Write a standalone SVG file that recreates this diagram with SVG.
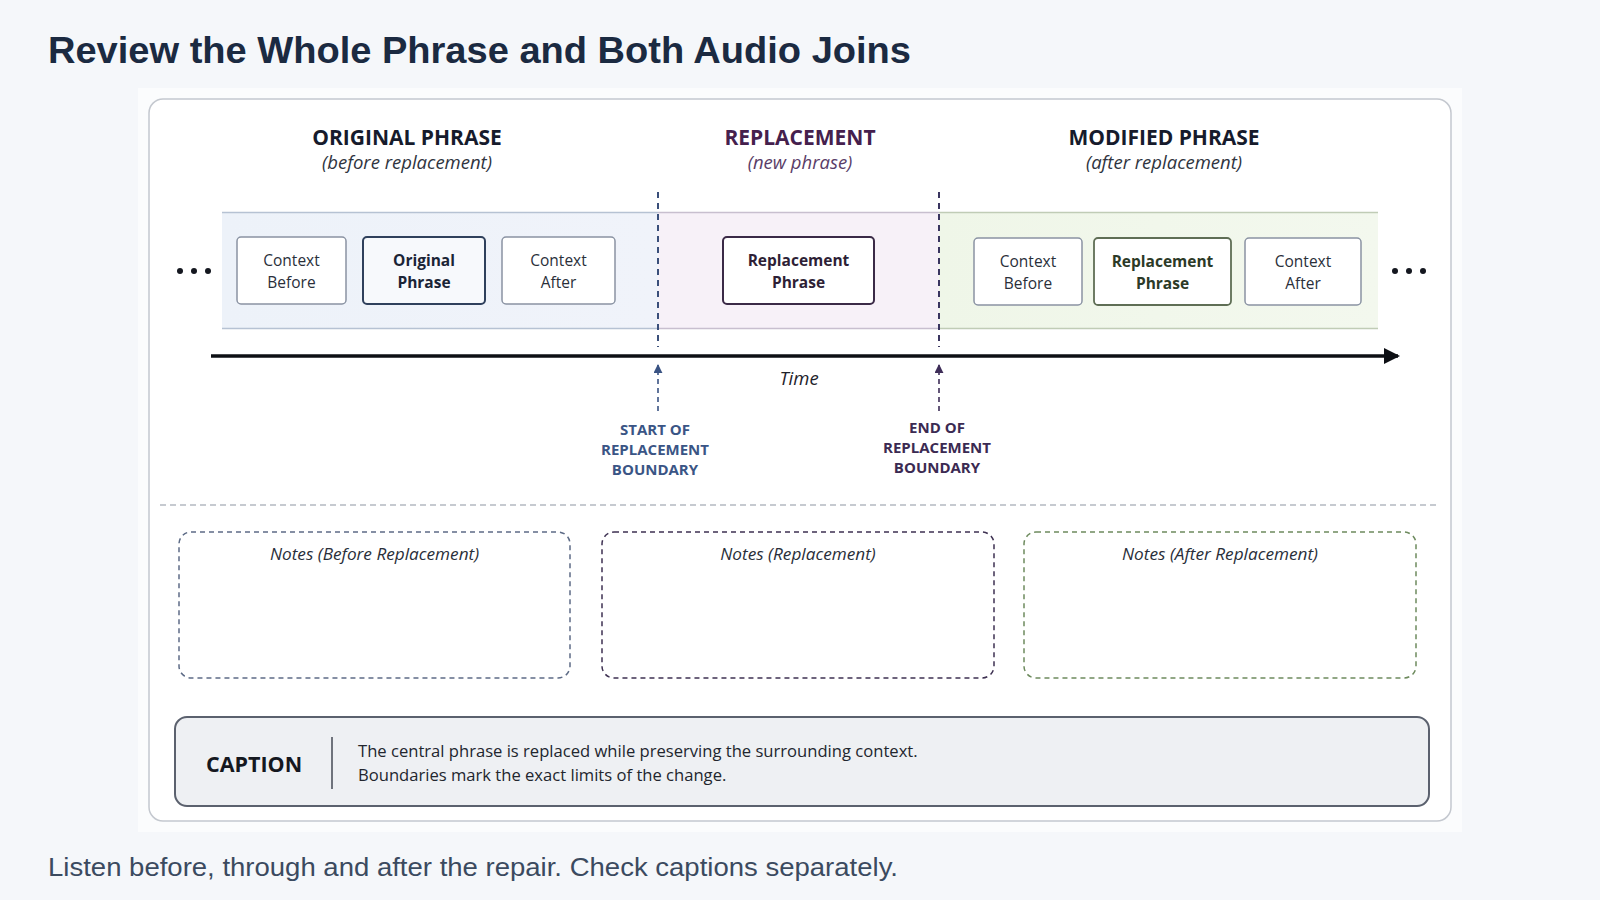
<svg xmlns="http://www.w3.org/2000/svg" width="1600" height="900" viewBox="0 0 1600 900">
<defs>
<style>
.title{font-family:"Liberation Sans",Arial,sans-serif;font-weight:bold;font-size:37px;fill:#1b2a41}
.foot{font-family:"Liberation Sans",Arial,sans-serif;font-size:26px;fill:#3b4a5f}
.hdr{font-family:"Open Sans","Noto Sans",sans-serif;font-weight:bold;font-size:21px;text-anchor:middle}
.sub{font-family:"Open Sans","Noto Sans",sans-serif;font-style:italic;font-size:18.5px;text-anchor:middle}
.bx{font-family:"Open Sans","Noto Sans",sans-serif;font-size:15.5px;text-anchor:middle;fill:#2a2f3a}
.bxb{font-family:"Open Sans","Noto Sans",sans-serif;font-size:15.5px;font-weight:bold;text-anchor:middle}
.lbl{font-family:"Open Sans","Noto Sans",sans-serif;font-size:15px;font-weight:bold;text-anchor:middle}
.note{font-family:"Open Sans","Noto Sans",sans-serif;font-style:italic;font-size:17.2px;text-anchor:middle;fill:#2a2f3a}
.cap{font-family:"Open Sans","Noto Sans",sans-serif;font-size:16.6px;fill:#22262e}
.box{fill:#ffffff;stroke:#8a93a3;stroke-width:1.5}
</style>
<linearGradient id="gBlue" x1="0" y1="0" x2="1" y2="0">
<stop offset="0" stop-color="#edf2f9"/><stop offset="1" stop-color="#f0f3fa"/>
</linearGradient>
<linearGradient id="gGreen" x1="0" y1="0" x2="1" y2="0">
<stop offset="0" stop-color="#eff6e8"/><stop offset="1" stop-color="#f3f8ee"/>
</linearGradient>
<marker id="ahBlack" viewBox="0 0 16 16" refX="14" refY="8" markerWidth="16" markerHeight="16" markerUnits="userSpaceOnUse" orient="auto">
<path d="M0,0 L16,8 L0,16 Z" fill="#0d0f14"/>
</marker>
<marker id="ahBlue" viewBox="0 0 10 10" refX="9" refY="5" markerWidth="9" markerHeight="9" markerUnits="userSpaceOnUse" orient="auto">
<path d="M0,0 L10,5 L0,10 Z" fill="#3a5383"/>
</marker>
<marker id="ahPurple" viewBox="0 0 10 10" refX="9" refY="5" markerWidth="9" markerHeight="9" markerUnits="userSpaceOnUse" orient="auto">
<path d="M0,0 L10,5 L0,10 Z" fill="#3e2d58"/>
</marker>
</defs>

<rect x="0" y="0" width="1600" height="900" fill="#f5f7fa"/>
<text class="title" x="48" y="63" textLength="863" lengthAdjust="spacingAndGlyphs">Review the Whole Phrase and Both Audio Joins</text>
<text class="foot" x="48" y="876" textLength="850" lengthAdjust="spacingAndGlyphs">Listen before, through and after the repair. Check captions separately.</text>

<g id="panel">
<rect x="138" y="88" width="1324" height="744" fill="#fbfcfd"/>
<rect x="149" y="99" width="1302" height="722" rx="14" fill="#ffffff" stroke="#c4c8cf" stroke-width="1.5"/>
</g>

<g id="headers">
<text class="hdr" x="407" y="145" fill="#161b2c">ORIGINAL PHRASE</text>
<text class="sub" x="407" y="169" fill="#2f3440">(before replacement)</text>
<text class="hdr" x="800" y="145" fill="#45204d">REPLACEMENT</text>
<text class="sub" x="800" y="169" fill="#5a3d68">(new phrase)</text>
<text class="hdr" x="1164" y="145" fill="#161b2c">MODIFIED PHRASE</text>
<text class="sub" x="1164" y="169" fill="#2f3440">(after replacement)</text>
</g>

<g id="bands">
<rect x="222" y="212" width="436" height="117" fill="url(#gBlue)"/>
<rect x="658" y="212" width="281" height="117" fill="#f7f1f8"/>
<rect x="939" y="212" width="439" height="117" fill="url(#gGreen)"/>
<path d="M222,212.5 H658 M222,328.5 H658" stroke="#b6c2d3" stroke-width="1.5"/>
<path d="M658,212.5 H939 M658,328.5 H939" stroke="#c8bfcf" stroke-width="1.5"/>
<path d="M939,212.5 H1378 M939,328.5 H1378" stroke="#c0ccb6" stroke-width="1.5"/>
</g>

<g id="ellipsis-left" fill="#14171f">
<circle cx="180" cy="271" r="3"/><circle cx="194" cy="271" r="3"/><circle cx="208" cy="271" r="3"/>
</g>
<g id="ellipsis-right" fill="#14171f">
<circle cx="1395" cy="271" r="3"/><circle cx="1409" cy="271" r="3"/><circle cx="1423" cy="271" r="3"/>
</g>

<g id="orig-context-before">
<rect class="box" x="237" y="237" width="109" height="67" rx="4" stroke="#8d97a8"/>
<text class="bx" x="291.5" y="266">Context</text>
<text class="bx" x="291.5" y="288">Before</text>
</g>
<g id="orig-phrase">
<rect x="363" y="237" width="122" height="67" rx="4" fill="#f7f9fc" stroke="#2f405c" stroke-width="2"/>
<text class="bxb" x="424" y="266" fill="#1b2436">Original</text>
<text class="bxb" x="424" y="288" fill="#1b2436">Phrase</text>
</g>
<g id="orig-context-after">
<rect class="box" x="502" y="237" width="113" height="67" rx="4" stroke="#8d97a8"/>
<text class="bx" x="558.5" y="266">Context</text>
<text class="bx" x="558.5" y="288">After</text>
</g>

<g id="replacement-phrase">
<rect x="723" y="237" width="151" height="67" rx="4" fill="#ffffff" stroke="#3b2a47" stroke-width="2"/>
<text class="bxb" x="798.5" y="266" fill="#2e1f36">Replacement</text>
<text class="bxb" x="798.5" y="288" fill="#2e1f36">Phrase</text>
</g>

<g id="mod-context-before">
<rect class="box" x="974" y="238" width="108" height="67" rx="4" stroke="#7d8a72"/>
<text class="bx" x="1028" y="267">Context</text>
<text class="bx" x="1028" y="289">Before</text>
</g>
<g id="mod-replacement-phrase">
<rect x="1094" y="238" width="137" height="67" rx="4" fill="#ffffff" stroke="#5f6e55" stroke-width="1.8"/>
<text class="bxb" x="1162.5" y="267" fill="#2c3a27">Replacement</text>
<text class="bxb" x="1162.5" y="289" fill="#2c3a27">Phrase</text>
</g>
<g id="mod-context-after">
<rect class="box" x="1245" y="238" width="116" height="67" rx="4" stroke="#7d8a72"/>
<text class="bx" x="1303" y="267">Context</text>
<text class="bx" x="1303" y="289">After</text>
</g>

<g id="connectors">
<line x1="658" y1="192" x2="658" y2="347" stroke="#3a4f7a" stroke-width="2" stroke-dasharray="6,5"/>
<line x1="939" y1="192" x2="939" y2="347" stroke="#3a3560" stroke-width="2" stroke-dasharray="6,5"/>
<line x1="211" y1="356" x2="1398" y2="356" stroke="#0d0f14" stroke-width="3.5" marker-end="url(#ahBlack)"/>
<line x1="658" y1="411" x2="658" y2="365" stroke="#3a5383" stroke-width="1.6" stroke-dasharray="5,4" marker-end="url(#ahBlue)"/>
<line x1="939" y1="411" x2="939" y2="365" stroke="#3e2d58" stroke-width="1.6" stroke-dasharray="5,4" marker-end="url(#ahPurple)"/>
</g>

<g id="time-label">
<text class="sub" x="799" y="385" fill="#1e222b">Time</text>
</g>

<g id="start-boundary">
<text class="lbl" x="655" y="435" fill="#3a5585">START OF</text>
<text class="lbl" x="655" y="455" fill="#3a5585">REPLACEMENT</text>
<text class="lbl" x="655" y="475" fill="#3a5585">BOUNDARY</text>
</g>
<g id="end-boundary">
<text class="lbl" x="937" y="433" fill="#3b2a52">END OF</text>
<text class="lbl" x="937" y="453" fill="#3b2a52">REPLACEMENT</text>
<text class="lbl" x="937" y="473" fill="#3b2a52">BOUNDARY</text>
</g>

<line id="separator" x1="160" y1="505" x2="1439" y2="505" stroke="#b4b9c1" stroke-width="1.5" stroke-dasharray="6,4"/>

<g id="notes-before">
<rect x="179" y="532" width="391" height="146" rx="12" fill="#ffffff" stroke="#5d6b86" stroke-width="1.5" stroke-dasharray="5,4"/>
<text class="note" x="374.5" y="560">Notes (Before Replacement)</text>
</g>
<g id="notes-replacement">
<rect x="602" y="532" width="392" height="146" rx="12" fill="#ffffff" stroke="#3e3152" stroke-width="1.5" stroke-dasharray="5,4"/>
<text class="note" x="798" y="560">Notes (Replacement)</text>
</g>
<g id="notes-after">
<rect x="1024" y="532" width="392" height="146" rx="12" fill="#ffffff" stroke="#6d8a5d" stroke-width="1.5" stroke-dasharray="5,4"/>
<text class="note" x="1220" y="560">Notes (After Replacement)</text>
</g>

<g id="caption">
<rect x="175" y="717" width="1254" height="89" rx="12" fill="#eef0f3" stroke="#5b616e" stroke-width="2"/>
<text x="206" y="772" font-family="Open Sans, Noto Sans, sans-serif" font-weight="bold" font-size="21.5" fill="#15181f">CAPTION</text>
<line x1="332" y1="737" x2="332" y2="789" stroke="#444a55" stroke-width="1.5"/>
<text class="cap" x="358" y="757">The central phrase is replaced while preserving the surrounding context.</text>
<text class="cap" x="358" y="781">Boundaries mark the exact limits of the change.</text>
</g>
</svg>
